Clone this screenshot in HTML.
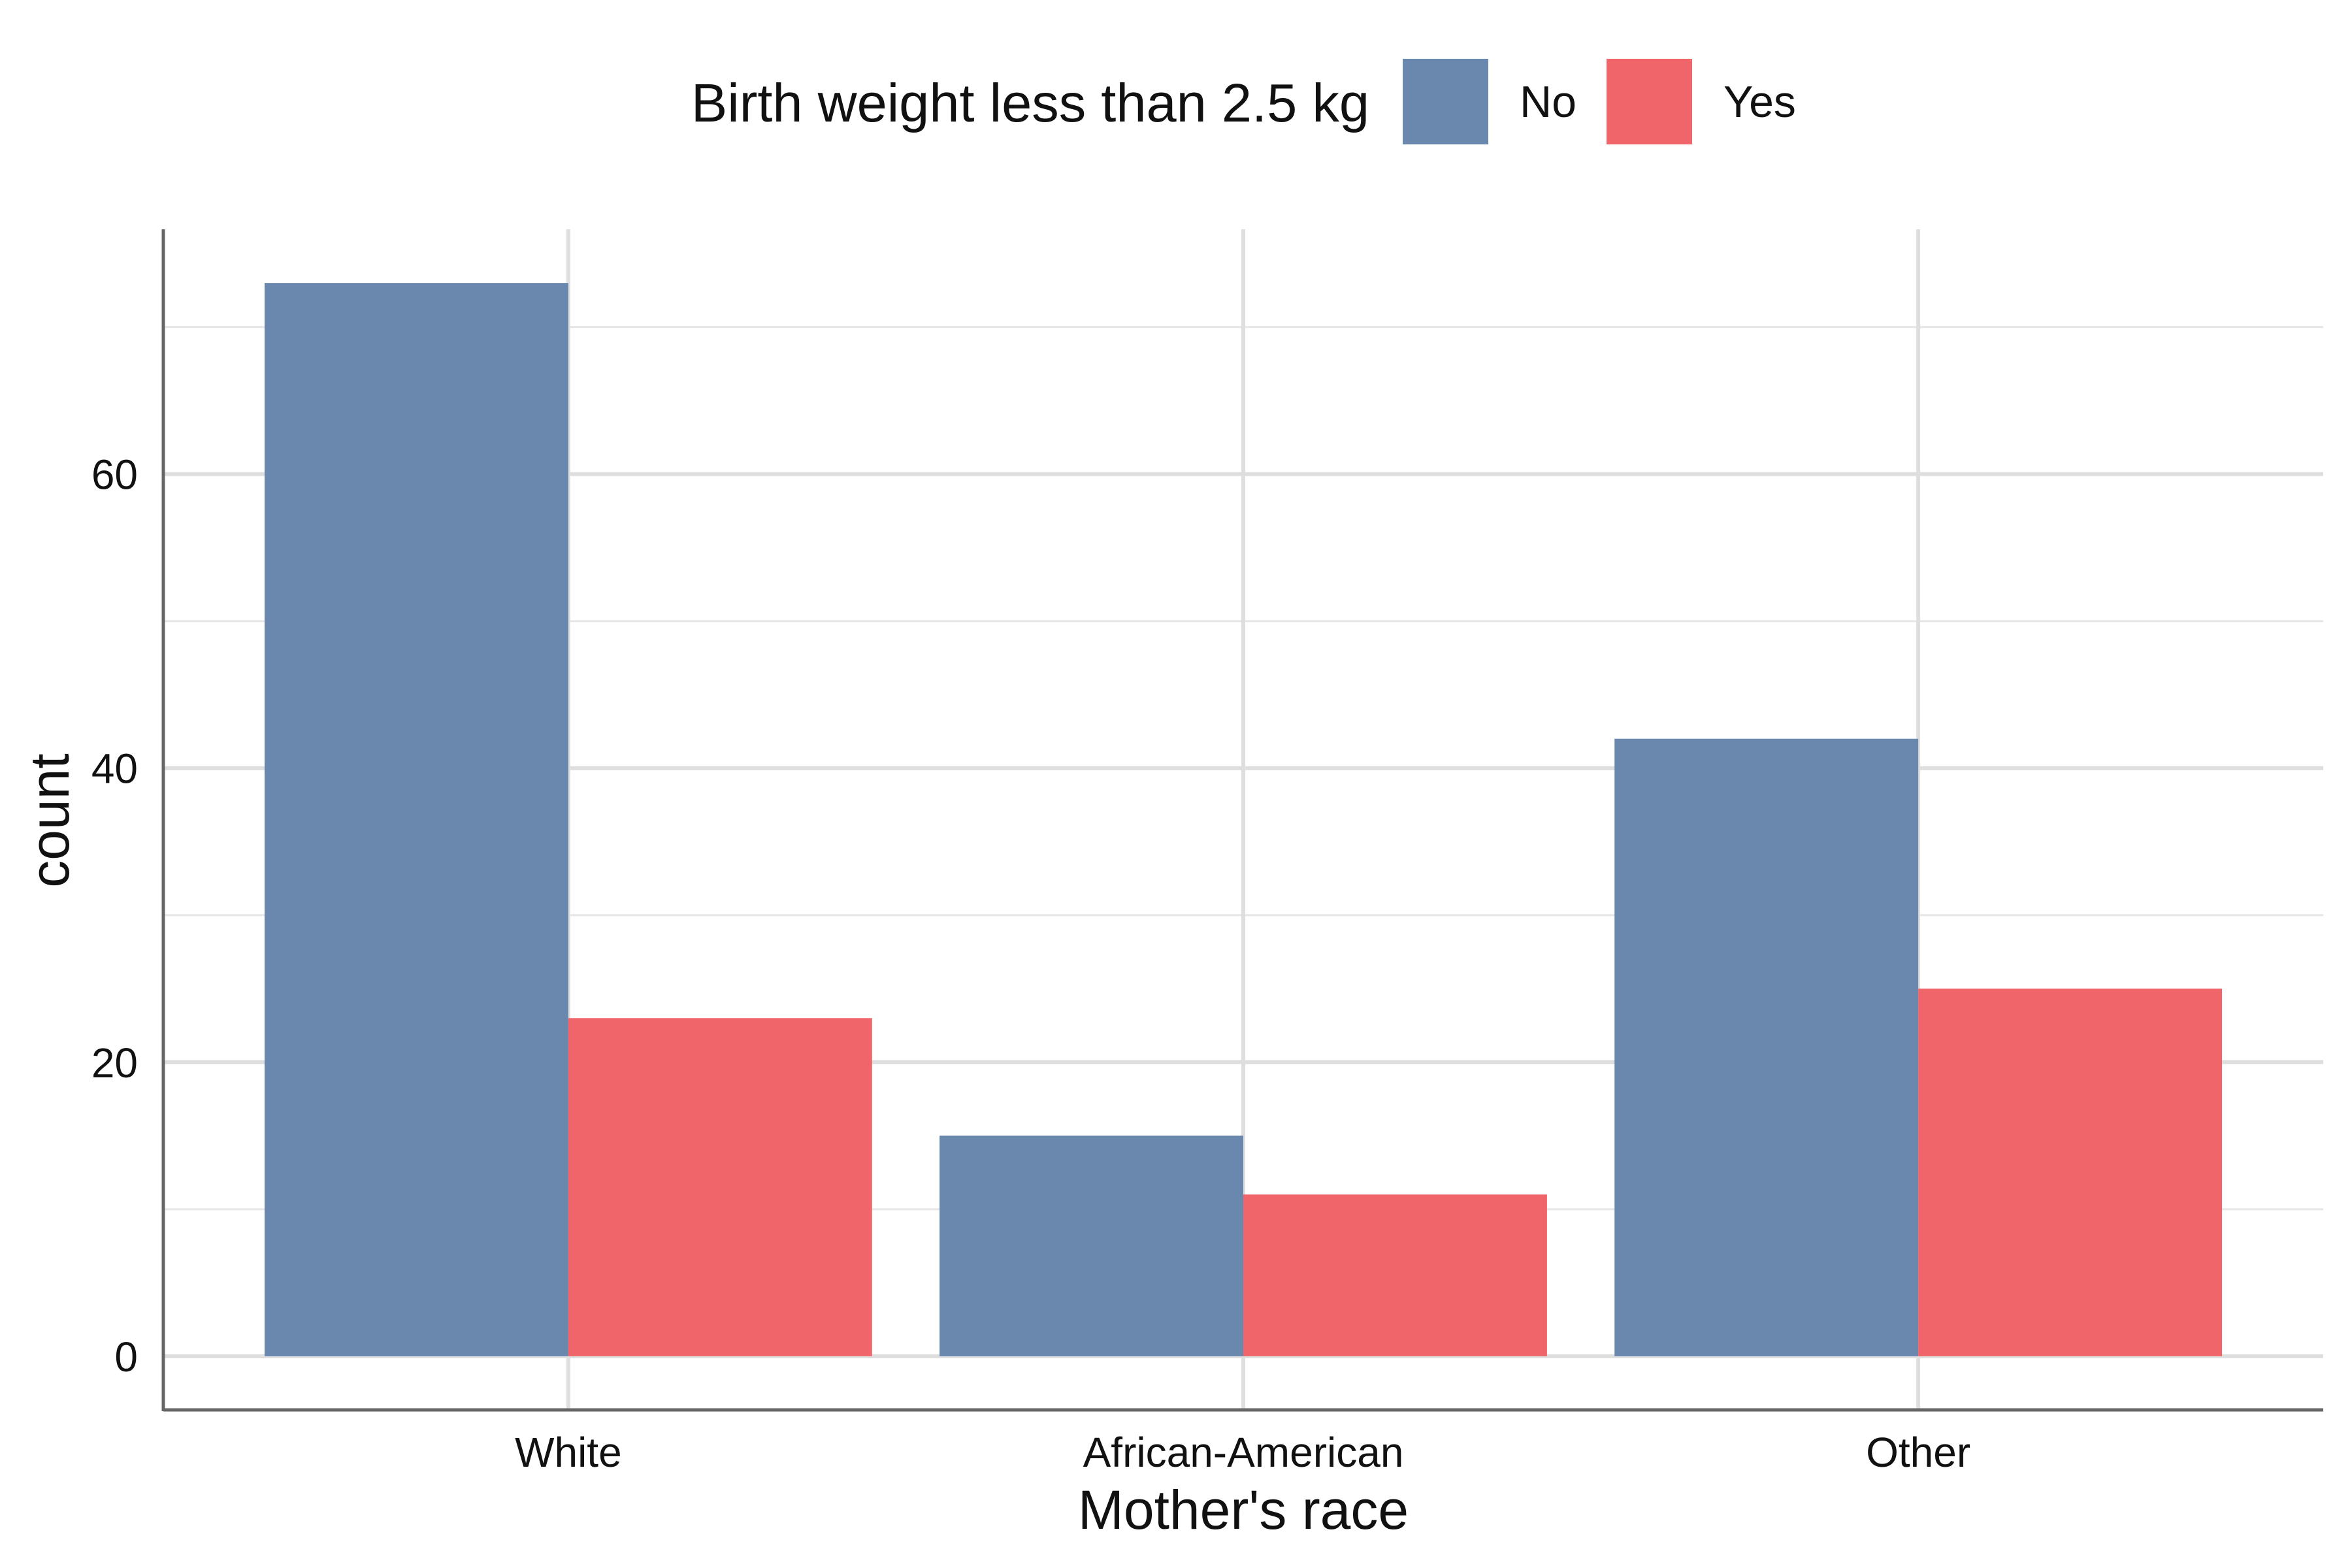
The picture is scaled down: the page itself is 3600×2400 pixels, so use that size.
<!DOCTYPE html>
<html><head><meta charset="utf-8"><style>html,body{margin:0;padding:0;background:#fff}svg{display:block}text{font-family:"Liberation Sans",Arial,sans-serif;fill:#111}</style></head>
<body>
<svg id="chart" width="3600" height="2400" viewBox="0 0 3600 2400">
<g id="grid"></g>
<g id="bars"></g>
<g id="axes"></g>
<g>
<text x="2096" y="186" font-size="83" text-anchor="end">Birth weight less than 2.5 kg</text>
<rect x="2147" y="90" width="131" height="131" fill="#6a87ae"/>
<text x="2326" y="179" font-size="68">No</text>
<rect x="2459" y="90" width="131" height="131" fill="#f0656a"/>
<text x="2638" y="179" font-size="68">Yes</text>
</g>
<text x="1903" y="2340" font-size="84" text-anchor="middle">Mother's race</text>
<text transform="translate(105,1256) rotate(-90)" font-size="84" text-anchor="middle">count</text>
</svg>
<script>
const categories = ["White", "African-American", "Other"];
const seriesNo = [73, 15, 42];
const seriesYes = [23, 11, 25];
const yTicks = [0, 20, 40, 60];
const yMinor = [10, 30, 50, 70];

const NS = "http://www.w3.org/2000/svg";
const L = 250, R = 3556, T = 351, B = 2158;
const maxV = Math.max(...seriesNo, ...seriesYes);
const yLo = -maxV * 0.05, yHi = maxV * 1.05;
function y(v) { return B - (v - yLo) / (yHi - yLo) * (B - T); }
const xLo = 0.4, xHi = categories.length + 0.6;
function x(i) { return L + (i + 1 - xLo) / (xHi - xLo) * (R - L); }
const unit = (R - L) / (xHi - xLo);
function mk(tag, attrs, parent) { const e = document.createElementNS(NS, tag); for (const k in attrs) e.setAttribute(k, attrs[k]); parent.appendChild(e); return e; }
const grid = document.getElementById('grid'), bars = document.getElementById('bars'), axes = document.getElementById('axes');

yMinor.forEach(v => {
  const l = mk('line', {x1: L, x2: R, y1: y(v), y2: y(v), stroke: '#e6e6e6', 'stroke-width': 3}, grid);
  
  
});
yTicks.forEach(v => {
  const l = mk('line', {x1: L, x2: R, y1: y(v), y2: y(v), stroke: '#dedede', 'stroke-width': 6}, grid);
  
  
  const t = mk('text', {x: 211, y: y(v) + 23, 'font-size': 64, 'text-anchor': 'end', fill: '#222'}, axes);
  t.textContent = v;
  
  
});
categories.forEach((c, i) => {
  const l = mk('line', {x1: x(i), x2: x(i), y1: T, y2: B, stroke: '#dedede', 'stroke-width': 6}, grid);
  
  
  const t = mk('text', {x: x(i), y: 2245, 'font-size': 64, 'text-anchor': 'middle', fill: '#222'}, axes);
  t.textContent = c;
  
  
});
const bw = 0.45 * unit;
categories.forEach((c, i) => {
  const b1 = mk('rect', {x: x(i) - bw, y: y(seriesNo[i]), width: bw, height: y(0) - y(seriesNo[i]), fill: '#6a87ae'}, bars);
  
  
  const b2 = mk('rect', {x: x(i), y: y(seriesYes[i]), width: bw, height: y(0) - y(seriesYes[i]), fill: '#f0656a'}, bars);
  
  
});
const ax = mk('line', {x1: L, x2: R, y1: B, y2: B, stroke: '#666', 'stroke-width': 5}, axes);


const ay = mk('line', {x1: L, x2: L, y1: T, y2: B + 2, stroke: '#666', 'stroke-width': 5}, axes);


</script>
</body></html>
